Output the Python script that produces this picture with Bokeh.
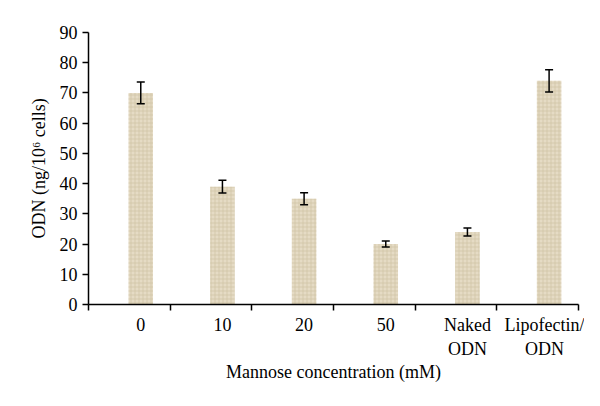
from bokeh.plotting import figure
from bokeh.models import ColumnDataSource, FixedTicker, Range1d, Whisker, TeeHead
from bokeh.embed import file_html
from bokeh.resources import INLINE

categories = ["0", "10", "20", "50", "Naked\nODN", "Lipofectin/\nODN"]
values = [70, 39, 35, 20, 24, 74]
errors = [3.6, 2.1, 2.0, 1.0, 1.3, 3.7]
y_ticks = [0, 10, 20, 30, 40, 50, 60, 70, 80, 90]

FONT = "Liberation Serif"
offset = 0.64
xs = [i + offset for i in range(len(categories))]

src = ColumnDataSource(dict(
    x=xs, top=values,
    upper=[v + e for v, e in zip(values, errors)],
    lower=[v - e for v, e in zip(values, errors)],
))

p = figure(width=584, height=390, output_backend="svg", toolbar_location=None,
           x_range=Range1d(0, len(categories)), y_range=Range1d(0, 90),
           min_border_left=88, min_border_right=6, min_border_top=32, min_border_bottom=86)
p.outline_line_color = None
p.xgrid.grid_line_color = None
p.ygrid.grid_line_color = None
p.background_fill_color = "white"
p.border_fill_color = "white"

p.vbar(x="x", top="top", width=0.3, bottom=0, source=src,
       fill_color="#e5dbc4", line_color=None,
       hatch_pattern="+", hatch_color="#cdbf9f", hatch_scale=4, hatch_weight=0.8, hatch_alpha=0.8)

w = Whisker(base="x", upper="upper", lower="lower", source=src,
            line_color="black", line_width=1.5, level="overlay",
            upper_head=TeeHead(size=8, line_color="black", line_width=1.5),
            lower_head=TeeHead(size=8, line_color="black", line_width=1.5))
p.add_layout(w)

# x axis
p.xaxis.ticker = FixedTicker(ticks=xs, minor_ticks=list(range(len(categories) + 1)))
p.xaxis.major_label_overrides = {x: c for x, c in zip(xs, categories)}
p.xaxis.major_tick_line_color = None
p.xaxis.major_tick_out = 0
p.xaxis.major_tick_in = 0
p.xaxis.minor_tick_out = 6
p.xaxis.minor_tick_in = 0
p.xaxis.minor_tick_line_color = "black"
p.xaxis.axis_label = "Mannose concentration (mM)"

# y axis
p.yaxis.ticker = FixedTicker(ticks=y_ticks)
p.yaxis.major_tick_out = 6
p.yaxis.major_tick_in = 0
p.yaxis.minor_tick_line_color = None
p.yaxis.axis_label = "ODN (ng/10\u2076 cells)"

for ax in (p.xaxis[0], p.yaxis[0]):
    ax.axis_line_color = "black"
    ax.axis_line_width = 1.5
    ax.major_tick_line_width = 1.5
    ax.minor_tick_line_width = 1.5
    ax.major_label_text_font = FONT
    ax.major_label_text_font_size = "18px"
    ax.major_label_text_color = "black"
    ax.axis_label_text_font = FONT
    ax.axis_label_text_font_size = "18px"
    ax.axis_label_text_font_style = "normal"
    ax.axis_label_text_color = "black"

p.xaxis.major_label_standoff = 4
p.xaxis.axis_label_standoff = 0
p.yaxis.major_label_standoff = 5
p.yaxis.axis_label_standoff = 8

open("out.html", "w").write(file_html(p, INLINE))
